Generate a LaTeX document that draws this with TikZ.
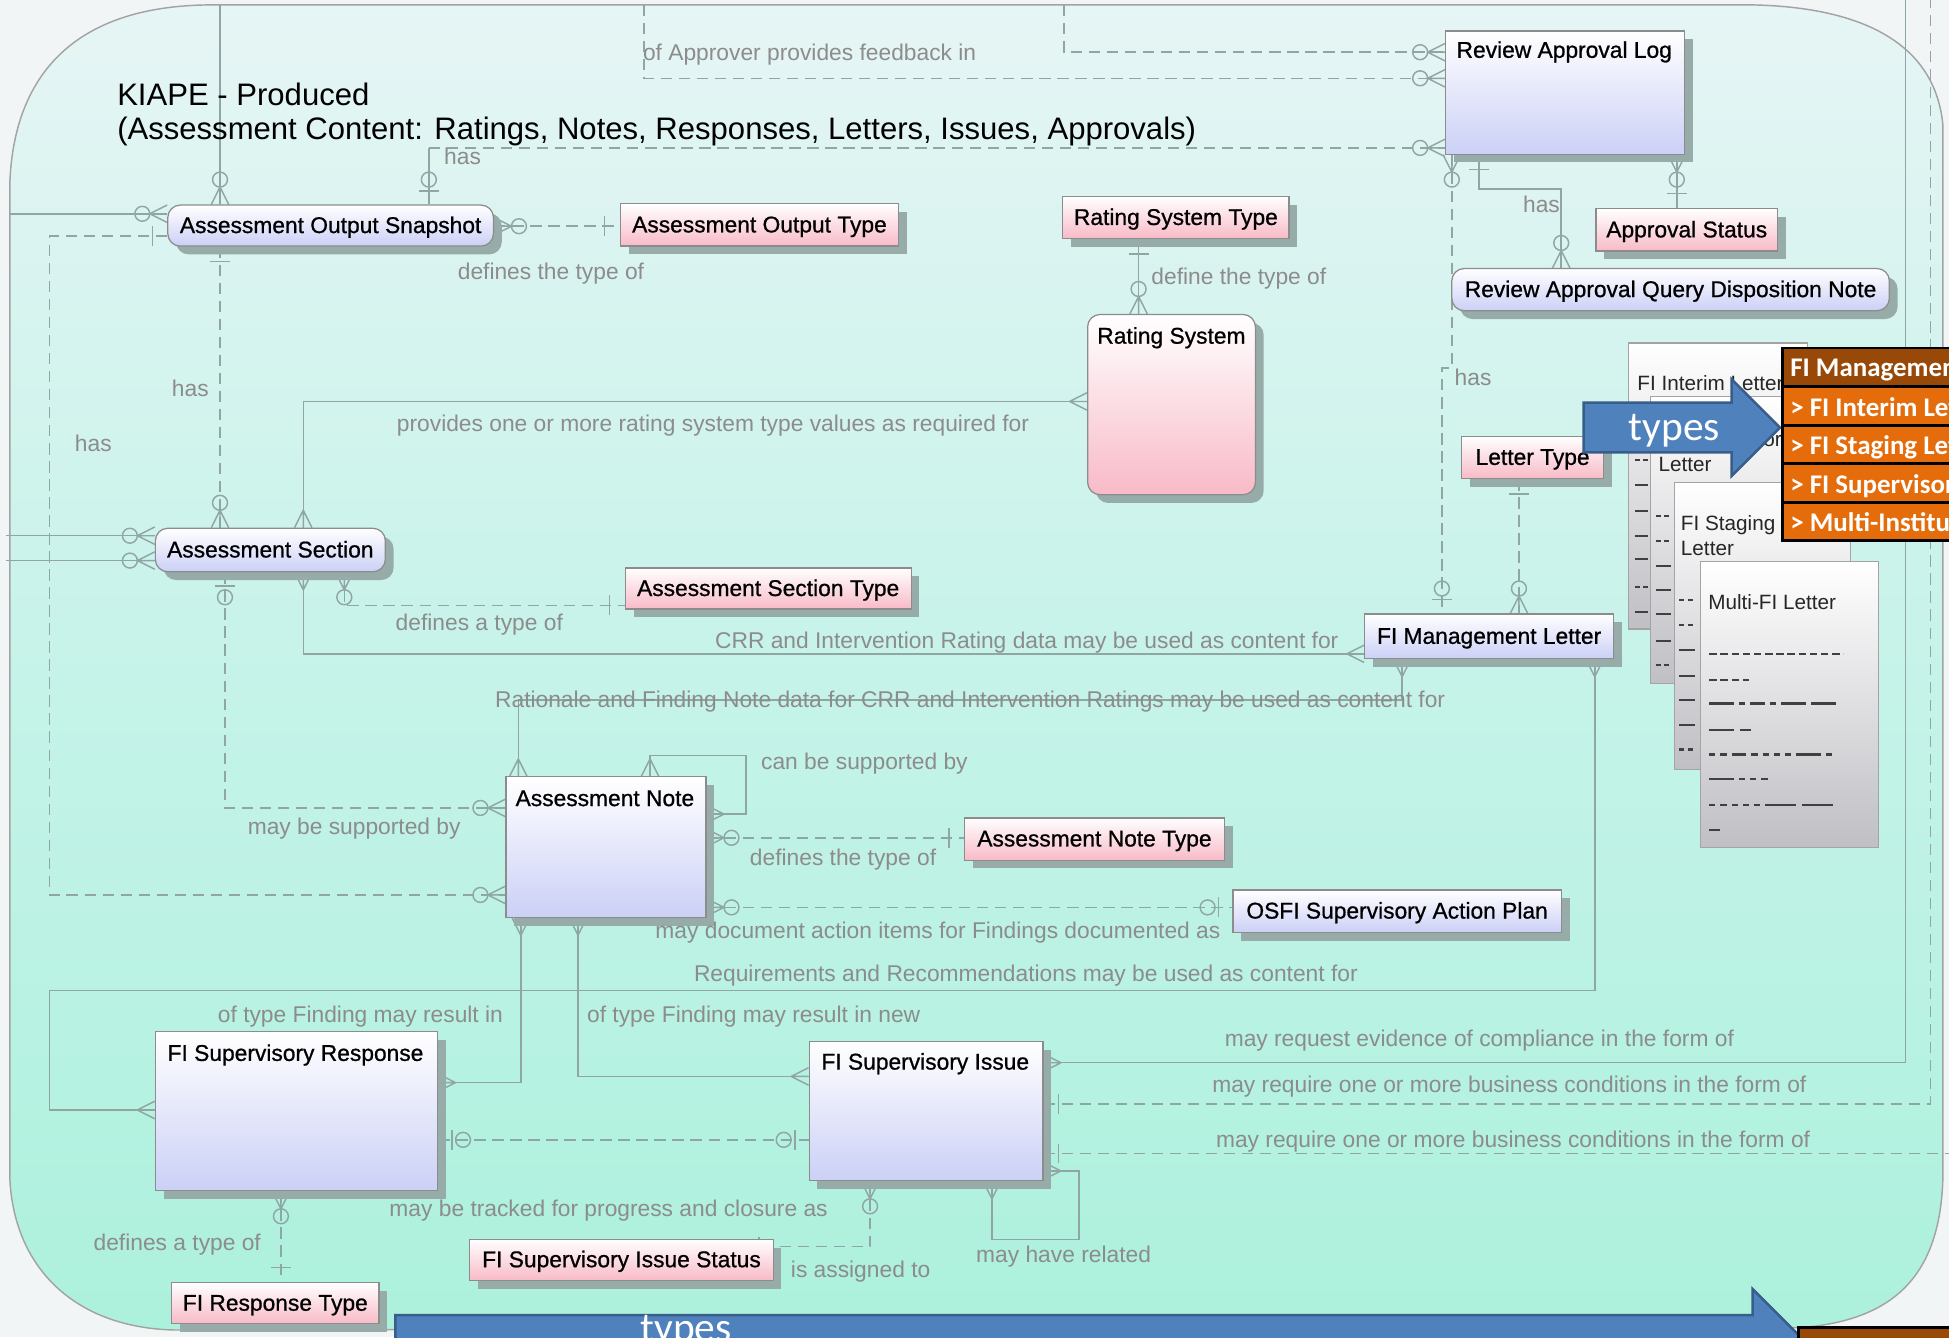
\documentclass[tikz,border=0pt]{standalone}
\usepackage{fontspec}
\setmainfont{Liberation Sans}
\newfontfamily\entfont{Liberation Sans}[FakeBold=0.8]
\newfontfamily\calib{Carlito}
\usetikzlibrary{calc,fit,shadows}

\definecolor{outerbg}{HTML}{F2F5F6}
\definecolor{regtop}{HTML}{E6F5F5}
\definecolor{regmid}{HTML}{C6F3E9}
\definecolor{regbot}{HTML}{ACF1DC}
\definecolor{regborder}{HTML}{A3A3A3}
\definecolor{relc}{HTML}{8FA6A4}
\definecolor{labc}{HTML}{8C8C8C}
\definecolor{lav}{HTML}{CBD0F6}
\definecolor{pinkb}{HTML}{F8BAC7}
\definecolor{entborder}{HTML}{8C8C8C}
\definecolor{shadowc}{HTML}{97ACA8}
\definecolor{pagegrey}{HTML}{BFBFC4}
\definecolor{pageedge}{HTML}{A4A4A4}
\definecolor{arrowblue}{HTML}{4F81BD}
\definecolor{arrowedge}{HTML}{385D8A}
\definecolor{orangehd}{HTML}{984807}
\definecolor{orangerow}{HTML}{E46C0A}

\pgfdeclarelayer{bg}
\pgfdeclarelayer{conn}
\pgfsetlayers{bg,conn,main}

\tikzset{
  x=0.6pt, y=-0.6pt,
  ent/.style={draw=entborder, line width=0.6pt, inner sep=0pt,
    drop shadow={shadow xshift=4pt, shadow yshift=-4pt, fill=shadowc, opacity=1}},
  lavent/.style={ent, top color=white, bottom color=lav},
  pinkent/.style={ent, top color=white, bottom color=pinkb},
  roundent/.style={rounded corners=6pt},
  etxt/.style={font=\entfont\fontsize{11}{13}\selectfont, text=black, inner sep=0pt, anchor=base west},
  ctxt/.style={font=\entfont\fontsize{11}{13}\selectfont, text=black, inner sep=0pt, anchor=base},
  lab/.style={font=\fontsize{11}{13}\selectfont, text=labc, inner sep=0pt, anchor=base west},
  ttl/.style={font=\fontsize{15}{18}\selectfont, text=black, inner sep=0pt, anchor=base west},
  rel/.style={draw=relc, line width=0.7pt},
  reld/.style={rel, dash pattern=on 5.5pt off 3.2pt},
  cfmany/.pic={\draw[rel] (0,-7) -- (14,0) (0,0) -- (14,0) (0,7) -- (14,0);},
  cfzmany/.pic={\draw[rel] (0,-7) -- (14,0) (0,0) -- (14,0) (0,7) -- (14,0);
                \draw[rel] (20,0) circle[radius=6];},
  cfone/.pic={\draw[rel] (12,-8) -- (12,8);},
  cfzone/.pic={\draw[rel] (11,-8) -- (11,8); \draw[rel] (20,0) circle[radius=6];},
  pagest/.style={draw=pageedge, line width=0.6pt, inner sep=0pt, top color=white, bottom color=pagegrey},
  ptxt/.style={font=\fontsize{10}{12}\selectfont, text=black!85, inner sep=0pt, anchor=base west},
  pmark/.style={draw=black!75, line width=1pt},
  blockarrow/.style={fill=arrowblue, draw=arrowedge, line width=1.2pt},
  arrtxt/.style={font=\calib\fontsize{20}{24}\selectfont, text=white, inner sep=0pt, anchor=base},
  tabcell/.style={draw=black, line width=1.4pt, inner sep=0pt},
  tabtxt/.style={font=\calib\bfseries\fontsize{13}{15}\selectfont, text=white, inner sep=0pt, anchor=base west},
}

\begin{document}
\begin{tikzpicture}
\useasboundingbox (0,0) rectangle (1568,1076);
\clip (0,0) rectangle (1568,1076);

% ---------- backdrop ----------
\begin{pgfonlayer}{bg}
\fill[outerbg] (0,0) rectangle (1568,1076);
\path[draw=regborder, line width=0.7pt, top color=regtop, bottom color=regbot, middle color=regmid]
  (8,145) .. controls (12,60) and (60,6) .. (165,4) -- (1412,4)
  .. controls (1490,6) and (1556,30) .. (1563,100) -- (1563,950)
  .. controls (1560,1030) and (1520,1062) .. (1450,1068) -- (140,1070)
  .. controls (60,1068) and (12,1020) .. (8,950) -- cycle;
\end{pgfonlayer}

% ---------- title ----------
\node[ttl] (t1) at (94,85) {KIAPE - Produced};
\node[ttl] (t2) at (94,112) {(Assessment Content: Ratings, Notes, Responses, Letters, Issues, Approvals)};

% ---------- entities ----------
\node[lavent, roundent, fit={(135,165) (397,198)}] (aos) {};
\node[ctxt] (aos-t) at ($(aos.center)+(0,6)$) {Assessment Output Snapshot};
\node[pinkent, fit={(499,164) (723,198)}] (aot) {};
\node[ctxt] (aot-t) at ($(aot.center)+(0,6)$) {Assessment Output Type};
\node[pinkent, fit={(855,158) (1037,192)}] (rst) {};
\node[ctxt] (rst-t) at ($(rst.center)+(0,6)$) {Rating System Type};
\node[pinkent, roundent, fit={(875,253) (1010,398)}] (rs) {};
\node[etxt] (rs-t) at ($(rs.north west)+(8,24)$) {Rating System};
\node[lavent, fit={(1163,25) (1355,124)}] (ral) {};
\node[etxt] (ral-t) at ($(ral.north west)+(9,22)$) {Review Approval Log};
\node[pinkent, fit={(1284,168) (1430,202)}] (aps) {};
\node[ctxt] (aps-t) at ($(aps.center)+(0,6)$) {Approval Status};
\node[lavent, roundent, fit={(1168,216) (1520,250)}] (raq) {};
\node[ctxt] (raq-t) at ($(raq.center)+(0,6)$) {Review Approval Query Disposition Note};
\node[lavent, roundent, fit={(125,425) (310,460)}] (as) {};
\node[ctxt] (as-t) at ($(as.center)+(0,6)$) {Assessment Section};
\node[pinkent, fit={(503,457) (733,490)}] (ast) {};
\node[ctxt] (ast-t) at ($(ast.center)+(0,6)$) {Assessment Section Type};
\node[pinkent, fit={(1176,351) (1290,385)}] (lt) {};
\node[ctxt] (lt-t) at ($(lt.center)+(0,6)$) {Letter Type};
\node[lavent, fit={(1098,494) (1298,530)}] (fml) {};
\node[ctxt] (fml-t) at ($(fml.center)+(0,6)$) {FI Management Letter};
\node[lavent, fit={(407,625) (568,738)}] (an) {};
\node[etxt] (an-t) at ($(an.north west)+(8,24)$) {Assessment Note};
\node[pinkent, fit={(776,658) (985,692)}] (ant) {};
\node[ctxt] (ant-t) at ($(ant.center)+(0,6)$) {Assessment Note Type};
\node[lavent, fit={(992,716) (1256,750)}] (osap) {};
\node[ctxt] (osap-t) at ($(osap.center)+(0,6)$) {OSFI Supervisory Action Plan};
\node[lavent, fit={(125,830) (352,958)}] (fsr) {};
\node[etxt] (fsr-t) at ($(fsr.north west)+(10,24)$) {FI Supervisory Response};
\node[lavent, fit={(651,838) (839,950)}] (fsi) {};
\node[etxt] (fsi-t) at ($(fsi.north west)+(10,23)$) {FI Supervisory Issue};
\node[pinkent, fit={(378,997) (622,1030)}] (fsis) {};
\node[ctxt] (fsis-t) at ($(fsis.center)+(0,6)$) {FI Supervisory Issue Status};
\node[pinkent, fit={(138,1032) (305,1065)}] (frt) {};
\node[ctxt] (frt-t) at ($(frt.center)+(0,6)$) {FI Response Type};

% ---------- relationships ----------
\begin{pgfonlayer}{conn}
% off-page links into the snapshot
\draw[rel] (177,4) -- (177,0 |- aos.north);
\pic[rotate=90] at (177,0 |- aos.north) {cfzmany};
\draw[rel] (8,172) -- (aos.west |- 0,172);
\pic[rotate=180] at (aos.west |- 0,172) {cfzmany};
% snapshot has sections
\draw[reld] (177,0 |- aos.south) -- (177,0 |- as.north);
\pic[rotate=-90] at (177,0 |- aos.south) {cfone};
\pic[rotate=90] at (177,0 |- as.north) {cfzmany};
% snapshot has review approval log
\draw[rel] (345,0 |- aos.north) -- (345,119);
\draw[reld] (345,119) -- (ral.west |- 0,119);
\pic[rotate=90] at (345,0 |- aos.north) {cfzone};
\pic[rotate=180] at (ral.west |- 0,119) {cfzmany};
% approver feedback links
\draw[reld] (518,4) -- (518,63) -- (ral.west |- 0,63);
\pic[rotate=180] at (ral.west |- 0,63) {cfzmany};
\draw[reld] (856,4) -- (856,42) -- (ral.west |- 0,42);
\pic[rotate=180] at (ral.west |- 0,42) {cfzmany};
% snapshot has notes
\draw[reld] (aos.west |- 0,190) -- (40,190) -- (40,720) -- (an.west |- 0,720);
\pic[rotate=180] at (aos.west |- 0,190) {cfone};
\pic[rotate=180] at (an.west |- 0,720) {cfzmany};
% output type
\draw[reld] (aos.east |- 0,182) -- (aot.west |- 0,182);
\pic at (aos.east |- 0,182) {cfzmany};
\pic[rotate=180] at (aot.west |- 0,182) {cfone};
% rating system type
\draw[rel] (916,0 |- rst.south) -- (916,0 |- rs.north);
\pic[rotate=-90] at (916,0 |- rst.south) {cfone};
\pic[rotate=90] at (916,0 |- rs.north) {cfzmany};
% rating system to section
\draw[rel] (rs.west |- 0,323) -- (244,323) -- (244,0 |- as.north);
\pic[rotate=180] at (rs.west |- 0,323) {cfmany};
\pic[rotate=90] at (244,0 |- as.north) {cfmany};
% review log has management letter
\draw[reld] (1168,0 |- ral.south) -- (1168,296) -- (1160,296) -- (1160,0 |- fml.north);
\pic[rotate=-90] at (1168,0 |- ral.south) {cfzmany};
\pic[rotate=90] at (1160,0 |- fml.north) {cfzone};
% review log has disposition notes
\draw[rel] (1190,0 |- ral.south) -- (1190,152) -- (1256,152) -- (1256,0 |- raq.north);
\pic[rotate=-90] at (1190,0 |- ral.south) {cfone};
\pic[rotate=90] at (1256,0 |- raq.north) {cfzmany};
% approval status
\draw[rel] (1349,0 |- ral.south) -- (1349,0 |- aps.north);
\pic[rotate=-90] at (1349,0 |- ral.south) {cfzmany};
\pic[rotate=90] at (1349,0 |- aps.north) {cfone};
% issue links leaving the page
\draw[rel] (fsi.east |- 0,855) -- (1533,855) -- (1533,0);
\pic at (fsi.east |- 0,855) {cfmany};
\draw[reld] (fsi.east |- 0,888) -- (1553,888) -- (1553,0);
\pic at (fsi.east |- 0,888) {cfone};
\draw[reld] (fsi.east |- 0,928) -- (1568,928);
\pic at (fsi.east |- 0,928) {cfone};
% section links from the left
\draw[rel] (5,431) -- (as.west |- 0,431);
\pic[rotate=180] at (as.west |- 0,431) {cfzmany};
\draw[rel] (5,451) -- (as.west |- 0,451);
\pic[rotate=180] at (as.west |- 0,451) {cfzmany};
% section supported by notes
\draw[reld] (181,0 |- as.south) -- (181,650) -- (an.west |- 0,650);
\pic[rotate=-90] at (181,0 |- as.south) {cfzone};
\pic[rotate=180] at (an.west |- 0,650) {cfzmany};
% section content for letter
\draw[rel] (244,0 |- as.south) -- (244,526) -- (fml.west |- 0,526);
\pic[rotate=-90] at (244,0 |- as.south) {cfmany};
\pic[rotate=180] at (fml.west |- 0,526) {cfmany};
% section type
\draw[reld] (277,0 |- as.south) -- (277,487) -- (ast.west |- 0,487);
\pic[rotate=-90] at (277,0 |- as.south) {cfzmany};
\pic[rotate=180] at (ast.west |- 0,487) {cfone};
% note content for letter
\draw[rel] (417,0 |- an.north) -- (417,563) -- (1128,563) -- (1128,0 |- fml.south);
\pic[rotate=90] at (417,0 |- an.north) {cfmany};
\pic[rotate=-90] at (1128,0 |- fml.south) {cfmany};
% note self link
\draw[rel] (523,0 |- an.north) -- (523,608) -- (600,608) -- (600,655) -- (an.east |- 0,655);
\pic[rotate=90] at (523,0 |- an.north) {cfmany};
\pic at (an.east |- 0,655) {cfmany};
% note type
\draw[reld] (an.east |- 0,674) -- (ant.west |- 0,674);
\pic at (an.east |- 0,674) {cfzmany};
\pic[rotate=180] at (ant.west |- 0,674) {cfone};
% action plan
\draw[reld] (an.east |- 0,730) -- (osap.west |- 0,730);
\pic at (an.east |- 0,730) {cfzmany};
\pic[rotate=180] at (osap.west |- 0,730) {cfzone};
% findings to responses and issues
\draw[rel] (419,0 |- an.south) -- (419,871) -- (fsr.east |- 0,871);
\pic[rotate=-90] at (419,0 |- an.south) {cfmany};
\pic at (fsr.east |- 0,871) {cfmany};
\draw[rel] (465,0 |- an.south) -- (465,866) -- (fsi.west |- 0,866);
\pic[rotate=-90] at (465,0 |- an.south) {cfmany};
\pic[rotate=180] at (fsi.west |- 0,866) {cfmany};
% requirements content for letter
\draw[rel] (1283,0 |- fml.south) -- (1283,797) -- (40,797) -- (40,893) -- (fsr.west |- 0,893);
\pic[rotate=-90] at (1283,0 |- fml.south) {cfmany};
\pic[rotate=180] at (fsr.west |- 0,893) {cfmany};
% response tracked as issue
\draw[reld] (fsr.east |- 0,917) -- (fsi.west |- 0,917);
\pic at (fsr.east |- 0,917) {cfzone};
\pic[rotate=180] at (fsi.west |- 0,917) {cfzone};
% response type
\draw[reld] (226,0 |- fsr.south) -- (226,0 |- frt.north);
\pic[rotate=-90] at (226,0 |- fsr.south) {cfzmany};
\pic[rotate=90] at (226,0 |- frt.north) {cfone};
% issue status
\draw[reld] (700,0 |- fsi.south) -- (700,1003) -- (fsis.east |- 0,1003);
\pic[rotate=-90] at (700,0 |- fsi.south) {cfzmany};
\pic[rotate=180] at (fsis.east |- 0,1003) {cfone};
% related issues
\draw[rel] (798,0 |- fsi.south) -- (798,997) -- (868,997) -- (868,942) -- (fsi.east |- 0,942);
\pic[rotate=-90] at (798,0 |- fsi.south) {cfmany};
\pic at (fsi.east |- 0,942) {cfmany};
% letter type
\draw[reld] (1222,0 |- lt.south) -- (1222,0 |- fml.north);
\pic[rotate=-90] at (1222,0 |- lt.south) {cfone};
\pic[rotate=90] at (1222,0 |- fml.north) {cfzmany};
\end{pgfonlayer}

% ---------- relationship verbs ----------
\node[lab] (l1) at (138,319) {has};
\node[lab] (l2) at (357,132) {has};
\node[lab] (l3) at (517,49) {of Approver provides feedback in};
\node[lab] (l4) at (60,363) {has};
\node[lab] (l5) at (368,225) {defines the type of};
\node[lab] (l6) at (926,229) {define the type of};
\node[lab] (l7) at (319,347) {provides one or more rating system type values as required for};
\node[lab] (l8) at (1170,310) {has};
\node[lab] (l9) at (1225,171) {has};
\node[lab] (l10) at (985,842) {may request evidence of compliance in the form of};
\node[lab] (l11) at (975,879) {may require one or more business conditions in the form of};
\node[lab] (l12) at (978,923) {may require one or more business conditions in the form of};
\node[lab] (l13) at (199,671) {may be supported by};
\node[lab] (l14) at (575,522) {CRR and Intervention Rating data may be used as content for};
\node[lab] (l15) at (318,507) {defines a type of};
\node[lab] (l16) at (398,569) {Rationale and Finding Note data for CRR and Intervention Ratings may be used as content for};
\node[lab] (l17) at (612,619) {can be supported by};
\node[lab] (l18) at (603,696) {defines the type of};
\node[lab] (l19) at (527,755) {may document action items for Findings documented as};
\node[lab] (l20) at (175,823) {of type Finding may result in};
\node[lab] (l21) at (472,823) {of type Finding may result in new};
\node[lab] (l22) at (558,790) {Requirements and Recommendations may be used as content for};
\node[lab] (l23) at (313,979) {may be tracked for progress and closure as};
\node[lab] (l24) at (75,1006) {defines a type of};
\node[lab] (l25) at (636,1028) {is assigned to};
\node[lab] (l26) at (785,1016) {may have related};

% ---------- stacked letter pages ----------
\node[pagest, fit={(1310,276) (1454,506)}] (pga) {};
\node[ptxt] (pga-t) at (1317,314) {FI Interim Letter};
\foreach \yy/\kk in {370/2,390/1,411/1,431/1,450/1,472/2,492/1}{
  \ifnum\kk=1 \draw[pmark] (1315,\yy) -- (1326,\yy);
  \else \draw[pmark] (1315,\yy) -- (1319,\yy) (1322,\yy) -- (1326,\yy); \fi}
\node[pagest, fit={(1328,319) (1470,550)}] (pgb) {};
\node[ptxt] (pgb-t1) at (1334,359) {FI Supervisory};
\node[ptxt] (pgb-t2) at (1334,379) {Letter};
\foreach \yy/\kk in {415/2,435/2,455/1,475/1,494/1,516/1,535/2}{
  \ifnum\kk=1 \draw[pmark] (1332,\yy) -- (1344,\yy);
  \else \draw[pmark] (1332,\yy) -- (1336,\yy) (1339,\yy) -- (1343,\yy); \fi}
\node[pagest, fit={(1347,388) (1489,619)}] (pgc) {};
\node[ptxt] (pgc-t1) at (1352,427) {FI Staging};
\node[ptxt] (pgc-t2) at (1352,447) {Letter};
\foreach \yy/\kk in {483/2,503/2,523/1,544/1,563/1,583/1,603/2}{
  \ifnum\kk=1 \draw[pmark] (1351,\yy) -- (1364,\yy);
  \else \draw[pmark] (1351,\yy) -- (1355,\yy) (1358,\yy) -- (1362,\yy); \fi}
\node[pagest, fit={(1368,452) (1511,682)}] (pgd) {};
\node[ptxt] (pgd-t) at (1374,490) {Multi-FI Letter};
\draw[pmark, dash pattern=on 3.6pt off 1.8pt] (1375,526) -- (1483,526);
\draw[pmark, dash pattern=on 3.6pt off 1.8pt] (1375,547) -- (1407,547);
\draw[pmark, dash pattern=on 12pt off 2.4pt on 3pt off 2.4pt on 7.2pt off 2.4pt on 3pt off 2.4pt on 12pt off 2.4pt on 12pt off 9pt] (1375,566) -- (1484,566);
\draw[pmark, dash pattern=on 12pt off 3pt on 5.4pt off 9pt] (1375,587) -- (1409,587);
\draw[pmark, dash pattern=on 3pt off 2.4pt on 3pt off 2.4pt on 7.2pt off 2.4pt on 3pt off 2.4pt on 3pt off 2.4pt on 3pt off 2.4pt on 3pt off 2.4pt on 12pt off 2.4pt on 3pt off 9pt] (1375,607) -- (1486,607);
\draw[pmark, dash pattern=on 12pt off 2.4pt on 3pt off 2.4pt on 3pt off 2.4pt on 3pt off 9pt] (1375,627) -- (1428,627);
\draw[pmark, dash pattern=on 3pt off 2.4pt on 3pt off 2.4pt on 3pt off 2.4pt on 3pt off 2.4pt on 3pt off 2.4pt on 15pt off 3pt on 15pt off 9pt] (1375,648) -- (1481,648);
\draw[pmark] (1375,668) -- (1384,668);

% ---------- block arrows ----------
\draw[blockarrow] (1274,324) -- (1393,324) -- (1393,305) -- (1432,344) -- (1393,383) -- (1393,364) -- (1274,364) -- cycle;
\node[arrtxt] (ty1) at (1347,354) {types};
\draw[blockarrow] (318,1058) -- (1410,1058) -- (1410,1037) -- (1480,1107) -- (1410,1177) -- (1410,1156) -- (318,1156) -- cycle;
\node[arrtxt] (ty2) at (552,1079) {types};

% ---------- letter type table ----------
\node[tabcell, fill=orangehd, fit={(1434,280) (1640,311)}] (th) {};
\node[tabcell, fill=orangerow, fit={(1434,311) (1640,342)}] (r1) {};
\node[tabcell, fill=orangerow, fit={(1434,342) (1640,373)}] (r2) {};
\node[tabcell, fill=orangerow, fit={(1434,373) (1640,404)}] (r3) {};
\node[tabcell, fill=orangerow, fit={(1434,404) (1640,435)}] (r4) {};
\node[tabtxt] (th-t) at (1440,303) {FI Management Letter};
\node[tabtxt] (r1-t) at (1440,335) {> FI Interim Letter};
\node[tabtxt] (r2-t) at (1440,366) {> FI Staging Letter};
\node[tabtxt] (r3-t) at (1440,397) {> FI Supervisory Letter};
\node[tabtxt] (r4-t) at (1440,428) {> Multi-Institution Letter};
\node[tabcell, fill=orangehd, fit={(1447,1068) (1640,1120)}] (bt) {};
\end{tikzpicture}
\end{document}
